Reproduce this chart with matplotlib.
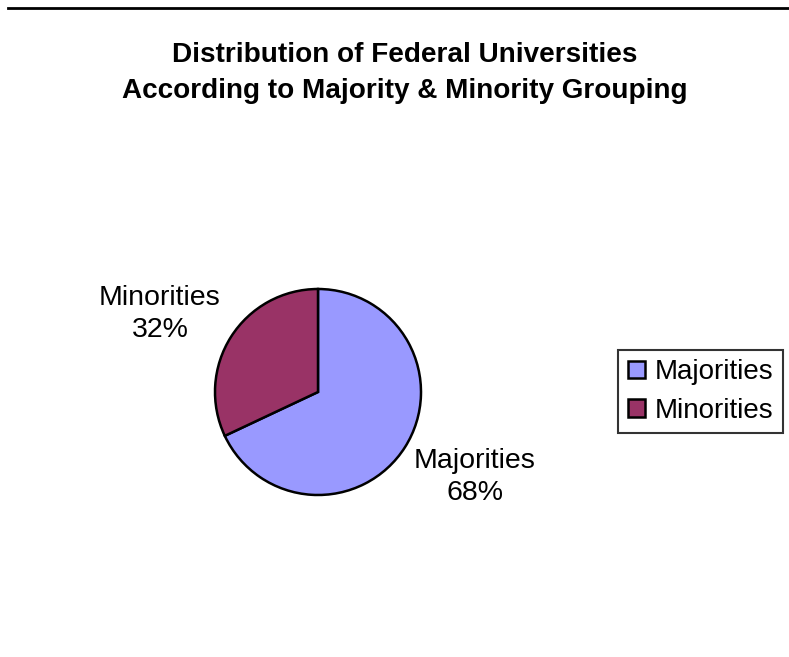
import matplotlib.pyplot as plt
from matplotlib.lines import Line2D

labels = ['Majorities', 'Minorities']
shares = [68, 32]
colors = ['#9999FF', '#993366']

W, H = 789, 657
plt.rcParams['font.family'] = 'Liberation Sans'

fig = plt.figure(figsize=(W / 100, H / 100), dpi=100)
ax = fig.add_axes([0, 0, 1, 1])

wedges, _ = ax.pie(shares, colors=colors, startangle=90, counterclock=False,
                   center=(318, H - 392), radius=103,
                   wedgeprops=dict(edgecolor='black', linewidth=1.8))

# pie() rescales the axes, so pin them to pixel units afterwards
ax.set_xlim(0, W)
ax.set_ylim(0, H)
ax.set_aspect('equal')
ax.axis('off')

# rule across the top
ax.add_line(Line2D([8, W], [H - 8, H - 8], color='black', lw=2))

ax.text(405, H - 73, 'Distribution of Federal Universities\nAccording to Majority & Minority Grouping',
        ha='center', va='center', fontsize=20.1, fontweight='bold', linespacing=1.46)

ax.text(160, H - 314, f'{labels[1]}\n{shares[1]}%', ha='center', va='center',
        fontsize=20.5, linespacing=1.32)
ax.text(475, H - 477, f'{labels[0]}\n{shares[0]}%', ha='center', va='center',
        fontsize=20.5, linespacing=1.32)

leg = ax.legend(wedges, labels, loc='center', bbox_to_anchor=(700.5 / W, 1 - 391.5 / H),
                fontsize=20, frameon=True, fancybox=False, handlelength=0.6,
                handleheight=0.6, handletextpad=0.35, borderpad=0.35, labelspacing=0.45)
leg.get_frame().set_edgecolor('black')
leg.get_frame().set_linewidth(1.5)

fig.savefig('out.png', dpi=100)
